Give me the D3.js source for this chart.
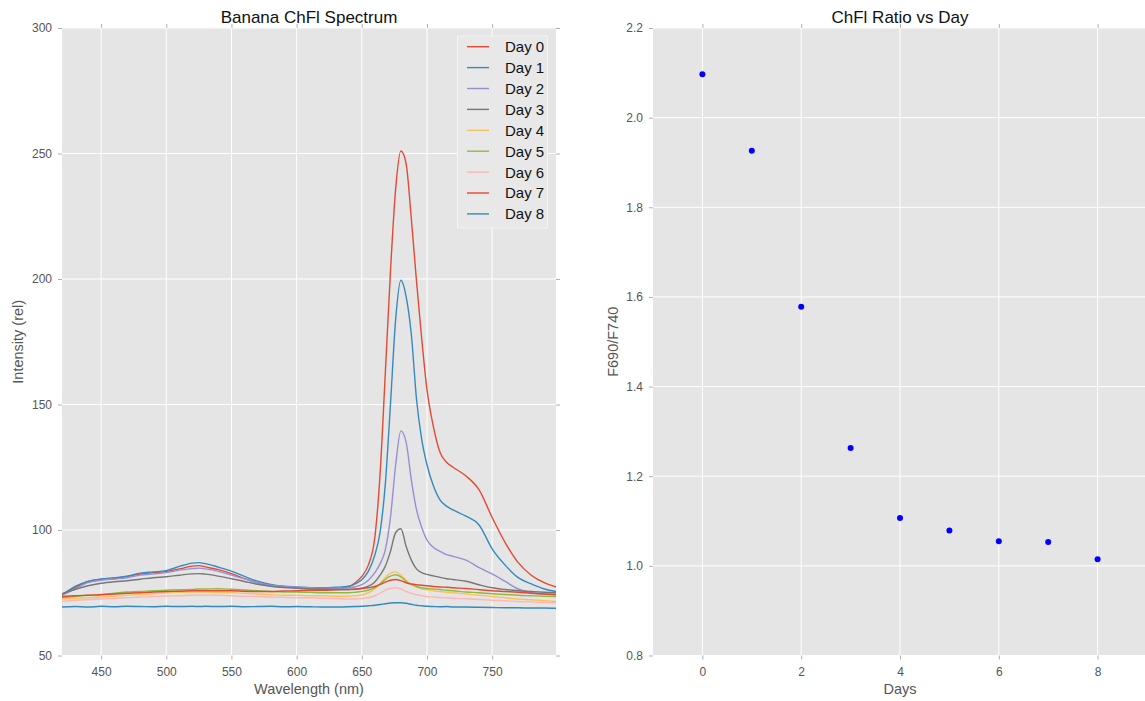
<!DOCTYPE html>
<html>
<head>
<meta charset="utf-8">
<script src="https://cdn.jsdelivr.net/npm/d3@7"></script>
<style>
  body { margin: 0; background: #fff; }
  svg { display: block; font-family: "Liberation Sans", Arial, Helvetica, sans-serif; }
</style>
</head>
<body>
<svg id="chart" width="1145" height="701"></svg>
<script>
// ---------- DATA ----------
const wavelengths = [420,430,440,450,460,470,480,490,500,510,520,525,530,540,550,560,570,580,590,600,610,620,630,640,645,650,655,660,664,668,672,676,680,684,688,692,696,700,705,710,715,720,730,740,750,760,770,780,790,799];

const day0 = [74.5,77,79.5,80.3,80.6,81.5,82.4,83,83.5,84.5,85.6, 85.8,85.3, 84.2,82.6,80.6,79,78,77.5,77,76.8,76.6,76.6,77.5, 79,81.5,86,97, 122,162,203,236,251,246,224,199,176,156, 141,131,127,125, 121.5,116,105,95,87,82,79, 77.3];
const day1 = [74,77.5,79.5,80.5,81,81.6,82.8,83.3,83.8,85.5,86.8, 87,86.6, 85.2,83.6,81.5,79.6,78.3,77.6,77.3,77,77,77.2,77.6, 78.5,80.2,83.5,90, 99,118,150,184,199.5,193,178,152,136,126, 117.5,112,109.5,108, 105.5,102,92.5,86,81,78.5,76.5, 75.5];
const day2 = [74,76.5,79,80,80.5,81,82,82.5,83,84,84.6, 84.8,84.5, 83.5,82,80.5,79,78,77.5,77.2,77,76.8,76.8,77, 77.4,78.2,80,83, 86.5,92,105,126,139.5,135,120,108,101,96, 93,91.5,90.2,89.5, 88,85,82.5,79.5,76.5,75,74.5, 74.2];
const day3 = [74.5,76.3,77.8,78.8,79.4,79.8,80.4,81,81.4,82,82.5, 82.6,82.4, 81.6,80.6,79.5,78.4,77.6,77.1,76.8,76.5,76.5,76.3,76.3, 76.4,76.8,77.6,79.3, 82,85.5,91.5,99,100.5,93.5,88,84.5,83,82.3, 81.7,81.1,80.6,80.3, 79.6,78.2,77,76.3,75.8,75.5,75.2, 75];
const day4 = [72.5,72.8,73,73.3,73.6,74,74.3,74.6,75,75.2,75.3, 75.3,75.3, 75.2,75,74.8,74.5,74.3,74,74,73.8,73.8,73.6,73.6, 73.8,74.1,75,76.5, 78.5,81,82.8,83.3,82,80,78.3,77.2,76.5,76.2, 75.8,75.5,75.2,75, 74.5,74,73.5,73,72.5,72.2,71.8, 71.5];
const day5 = [73,73.5,74,74.3,74.8,75.3,75.5,75.8,76,76.2,76.3, 76.5,76.5, 76.6,76.4,76.1,75.8,75.5,75.3,75.3,75.2,75,75,75, 75.2,75.5,76,77, 78.5,80.3,81.6,82.2,81.3,79.5,78.3,77.5,77,76.7, 76.5,76.3,76,75.8, 75.3,75,74.6,74.3,74,73.8,73.6, 73.5];
const day6 = [71.5,72,72.3,72.5,72.8,73,73.3,73.5,73.7,73.8,74, 74,74, 74,73.8,73.6,73.5,73.3,73.2,73,73,72.8,72.7,72.5, 72.5,72.7,73,73.8, 74.8,76,76.8,77,76.5,75.5,74.8,74.2,73.8,73.5, 73.3,73.1,73,72.8, 72.6,72.3,72,71.8,71.5,71.3,71.1, 71];
const day7 = [73.5,73.8,74,74.2,74.5,74.8,75,75.3,75.5,75.6,75.8, 75.8,75.8, 75.8,75.8,75.6,75.5,75.5,75.7,75.8,76,76,76.2,76.3, 76.5,76.7,77,77.5, 78.3,79.2,80,80.3,79.8,79,78.5,78.2,78,77.8, 77.5,77.3,77.2,77, 76.7,76.2,75.8,75.5,75.2,74.8,74.5, 74.3];
const day8 = [69.3,69.5,69.3,69.6,69.4,69.6,69.5,69.4,69.6,69.5,69.6, 69.5,69.6, 69.5,69.6,69.4,69.5,69.6,69.4,69.5,69.4,69.3,69.3,69.4, 69.5,69.6,69.8,70, 70.3,70.6,70.9,71,71,70.8,70.4,70,69.8,69.6, 69.5,69.4,69.5,69.3, 69.3,69.2,69.1,69,69,68.9,68.9, 68.8];

const seriesNames = ["Day 0","Day 1","Day 2","Day 3","Day 4","Day 5","Day 6","Day 7","Day 8"];
const seriesValues = [day0, day1, day2, day3, day4, day5, day6, day7, day8];
const seriesColors = ["#E24A33","#348ABD","#988ED5","#777777","#FBC15E","#8EBA42","#FFB5B8","#E24A33","#348ABD"];

const days = [0,1,2,3,4,5,6,7,8];
const ratios = [2.097,1.926,1.578,1.263,1.107,1.079,1.055,1.053,1.015];

const specXTicks = [450,500,550,600,650,700,750];
const specYTicks = [50,100,150,200,250,300];
const ratioXTicks = [0,2,4,6,8];
const ratioYTicks = [0.8,1.0,1.2,1.4,1.6,1.8,2.0,2.2];

// ---------- LAYOUT ----------
const svg = d3.select("#chart");
const plotTop = 28, plotBottom = 655.5;
const L = {x0: 62, x1: 556};
const R = {x0: 653, x1: 1147};

const xL = d3.scaleLinear().domain([420, 799]).range([L.x0, L.x1]);
const yL = d3.scaleLinear().domain([50, 300]).range([plotBottom, plotTop]);
const xR = d3.scaleLinear().domain([-1, 9]).range([R.x0, R.x1]);
const yR = d3.scaleLinear().domain([0.8, 2.2]).range([plotBottom, plotTop]);

const tickColor = "#b0b0b0", labelColor = "#555555";

function panel(x, y, xTicks, yTicks, xFmt, yFmt, id) {
  const g = svg.append("g");
  const [xa, xb] = x.range();
  g.append("rect").attr("x", xa).attr("y", plotTop).attr("width", xb - xa).attr("height", plotBottom - plotTop).attr("fill", "#E5E5E5");
  g.append("g").selectAll("line").data(xTicks).join("line")
    .attr("x1", d => x(d)).attr("x2", d => x(d)).attr("y1", plotTop).attr("y2", plotBottom)
    .attr("stroke", "#fff").attr("stroke-width", 1);
  g.append("g").selectAll("line").data(yTicks).join("line")
    .attr("x1", xa).attr("x2", xb).attr("y1", d => y(d)).attr("y2", d => y(d))
    .attr("stroke", "#fff").attr("stroke-width", 1);
  const styleAxis = sel => {
    sel.select(".domain").remove();
    sel.selectAll(".tick line").attr("stroke", tickColor);
    sel.selectAll(".tick text").attr("fill", labelColor).attr("font-size", 12)
      .attr("font-family", "Liberation Sans, Arial, sans-serif");
  };
  g.append("g").attr("transform", `translate(0,${plotBottom})`)
    .call(d3.axisBottom(x).tickValues(xTicks).tickFormat(xFmt).tickSize(4).tickPadding(8)).call(styleAxis);
  g.append("g").attr("transform", `translate(0,${plotTop})`)
    .call(d3.axisTop(x).tickValues(xTicks).tickFormat("").tickSize(4)).call(styleAxis);
  g.append("g").attr("transform", `translate(${xa},0)`)
    .call(d3.axisLeft(y).tickValues(yTicks).tickFormat(yFmt).tickSize(4).tickPadding(6)).call(styleAxis);
  g.append("g").attr("transform", `translate(${Math.min(xb, 1145)},0)`)
    .call(d3.axisRight(y).tickValues(yTicks).tickFormat("").tickSize(4)).call(styleAxis);
  svg.append("clipPath").attr("id", id).append("rect")
    .attr("x", xa).attr("y", plotTop).attr("width", xb - xa).attr("height", plotBottom - plotTop);
  return g;
}

// ---------- LEFT: spectrum ----------
panel(xL, yL, specXTicks, specYTicks, d3.format("d"), d3.format("d"), "clipL");
const line = d3.line().x((d, i) => xL(wavelengths[i])).y(d => yL(d)).curve(d3.curveMonotoneX);
const linesG = svg.append("g").attr("clip-path", "url(#clipL)");
seriesValues.forEach((vals, k) => {
  linesG.append("path").datum(vals).attr("d", line)
    .attr("fill", "none").attr("stroke", seriesColors[k]).attr("stroke-width", 1.4)
    .attr("stroke-linejoin", "round");
});

const lg = svg.append("g");
lg.append("rect").attr("x", 457.5).attr("y", 36).attr("width", 90).attr("height", 192)
  .attr("fill", "#E8E8E8").attr("stroke", "#F4F4F4").attr("stroke-width", 1);
seriesNames.forEach((name, k) => {
  const cy = 46.7 + k * 20.9;
  lg.append("line").attr("x1", 467).attr("x2", 489).attr("y1", cy).attr("y2", cy)
    .attr("stroke", seriesColors[k]).attr("stroke-width", 1.4);
  lg.append("text").attr("x", 505).attr("y", cy).attr("dy", "0.36em")
    .attr("font-size", 15).attr("fill", "#111").text(name);
});

svg.append("text").attr("x", (L.x0 + L.x1) / 2).attr("y", 23).attr("text-anchor", "middle")
  .attr("font-size", 17).attr("fill", "#111").text("Banana ChFl Spectrum");
svg.append("text").attr("x", (L.x0 + L.x1) / 2).attr("y", 694).attr("text-anchor", "middle")
  .attr("font-size", 14.5).attr("fill", labelColor).text("Wavelength (nm)");
svg.append("text").attr("transform", `translate(23,${(plotTop + plotBottom) / 2}) rotate(-90)`)
  .attr("text-anchor", "middle").attr("font-size", 14.5).attr("fill", labelColor).text("Intensity (rel)");

// ---------- RIGHT: ratio ----------
panel(xR, yR, ratioXTicks, ratioYTicks, d3.format("d"), d3.format(".1f"), "clipR");
svg.append("g").attr("clip-path", "url(#clipR)")
  .selectAll("circle").data(days).join("circle")
  .attr("cx", d => xR(d)).attr("cy", (d, i) => yR(ratios[i])).attr("r", 3)
  .attr("fill", "#0000FF");

svg.append("text").attr("x", 900).attr("y", 23).attr("text-anchor", "middle")
  .attr("font-size", 17).attr("fill", "#111").text("ChFl Ratio vs Day");
svg.append("text").attr("x", 900).attr("y", 694).attr("text-anchor", "middle")
  .attr("font-size", 14.5).attr("fill", labelColor).text("Days");
svg.append("text").attr("transform", `translate(618,${(plotTop + plotBottom) / 2}) rotate(-90)`)
  .attr("text-anchor", "middle").attr("font-size", 14.5).attr("fill", labelColor).text("F690/F740");
</script>
</body>
</html>
